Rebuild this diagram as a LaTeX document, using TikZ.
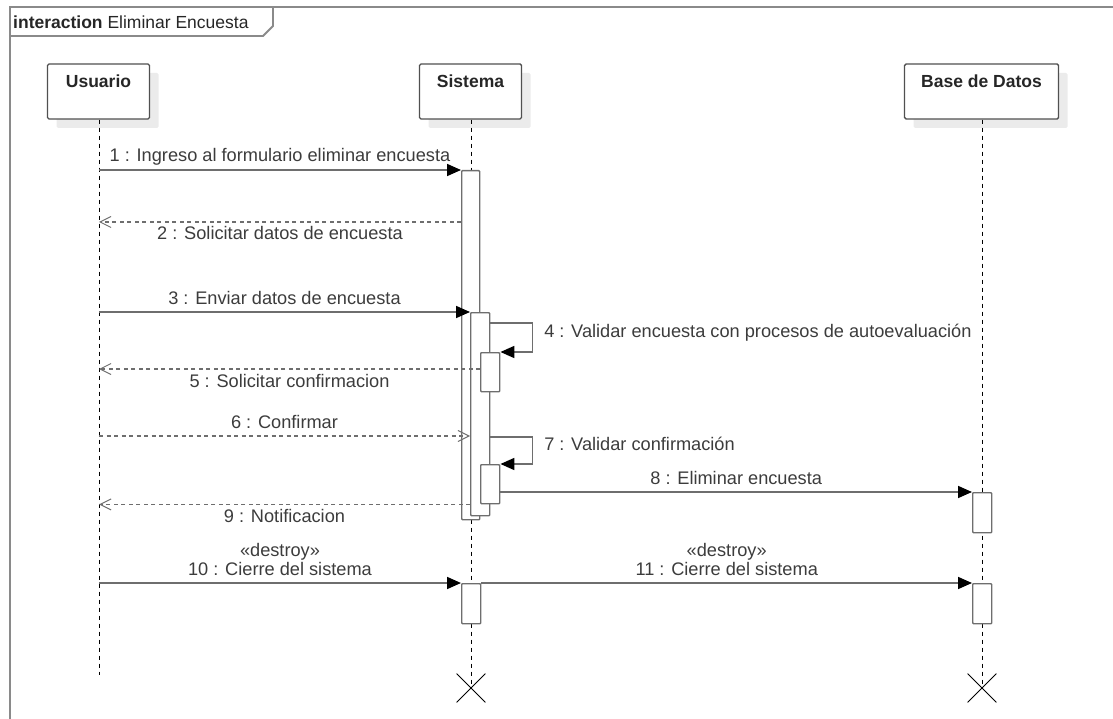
\documentclass[tikz,border=0pt]{standalone}
\usepackage{fontspec}
\setmainfont{Liberation Sans}
\usetikzlibrary{positioning, calc, shapes.misc, shadows, arrows.meta}

\definecolor{linegray}{HTML}{6E6E6E}
\definecolor{boxgray}{HTML}{505050}
\definecolor{framegray}{HTML}{8A8A8A}
\definecolor{txtgray}{HTML}{3C3C3C}

\tikzset{
  head/.style={draw=boxgray, line width=1.4pt, rounded corners=1.5pt, fill=white,
    minimum height=55pt, inner ysep=6pt, text height=18pt, text depth=25pt,
    font=\fontsize{17.5}{20}\selectfont\bfseries, text=black!85,
    drop shadow={shadow xshift=9pt, shadow yshift=-9pt, fill=black!8, opacity=1}},
  act/.style={draw=linegray, line width=1.4pt, fill=white, minimum width=19pt,
    inner sep=0pt, anchor=north west, rounded corners=0.8pt},
  life/.style={black, line width=0.9pt, dash pattern=on 4pt off 4pt},
  msg/.style={linegray, line width=1.7pt, -{Triangle[black, length=14pt, width=12pt]}},
  loopmsg/.style={linegray, line width=1.7pt, -{Triangle[black, length=14pt, width=12pt]}},
  ret/.style={linegray, line width=1.3pt, dash pattern=on 4pt off 3.5pt,
    -{Straight Barb[linegray, length=11pt, width=11pt, line width=1pt]}},
  lbl/.style={text=txtgray, font=\fontsize{18.2}{21}\selectfont, inner sep=0pt},
  over/.style={lbl, midway, anchor=base, yshift=8pt},
  under/.style={lbl, midway, anchor=base, yshift=-18pt},
  killmark/.style={cross out, draw=black, line width=0.8pt, minimum size=28pt, inner sep=0pt},
  frame/.style={framegray, line width=1.8pt}
}

\begin{document}
\begin{tikzpicture}[x=1pt, y=-1pt]
\useasboundingbox (0,0) rectangle (1113,719);

% frame
\draw[frame] (10,719) -- (10,7) -- (1113,7);
\draw[frame] (10,36) -- (263,36) -- (273,26) -- (273,7);
\node[anchor=base west, font=\fontsize{17.5}{20}\selectfont, text=black!85, inner sep=0pt] (title) at (13,29)
  {\textbf{interaction} Eliminar Encuesta};

% lifeline heads
\node[head, minimum width=102pt] (usr) at (98.5,91.5) {Usuario};
\node[head, minimum width=102pt] (sis) at (470.5,91.5) {Sistema};
\node[head, minimum width=154pt] (bd) at (981.5,91.5) {Base de Datos};

% ends of lifelines
\coordinate (usrend) at (99,675);
\node[killmark] (sisx) at (471,688) {};
\node[killmark] (bdx) at (982,688) {};

\draw[life] (usr.south -| usrend) -- (usrend);
\draw[life] (sis.south -| sisx) -- (sisx.center);
\draw[life] (bd.south -| bdx) -- (bdx.center);

% activations
\node[act, minimum width=18pt, minimum height=349pt] (a1) at (461,170) {};
\node[act, minimum height=203pt] (a2) at (470,312) {};
\node[act, minimum height=39pt] (a3) at (480,352) {};
\node[act, minimum height=39pt] (a4) at (480,464) {};
\node[act, minimum height=40pt] (a5) at (461,583) {};
\node[act, minimum height=40pt] (b1) at (972,492) {};
\node[act, minimum height=40pt] (b2) at (972,583) {};

% messages
\draw[msg] (usrend |- a1.north west) -- (a1.north west)
  node[over] (l1) {1 : Ingreso al formulario eliminar encuesta};

\coordinate (y2) at ($(a1.north west)+(0,52)$);
\draw[ret] (y2) -- (usrend |- y2)
  node[under] (l2) {2 : Solicitar datos de encuesta};

\draw[msg] (usrend |- a2.north west) -- (a2.north west)
  node[over] (l3) {3 : Enviar datos de encuesta};

\draw[loopmsg] ($(a2.north east)+(0,11)$) -- ++(42,0)
  node[lbl, anchor=base west, xshift=11pt, yshift=-14pt] (l4) {4 : Validar encuesta con procesos de autoevaluación}
  |- (a3.north east);

\coordinate (y5) at ($(a3.north west)+(0,17)$);
\draw[ret] (y5) -- (usrend |- y5)
  node[under] (l5) {5 : Solicitar confirmacion};

\coordinate (y6) at ($(a2.north west)+(0,124)$);
\draw[ret] (usrend |- y6) -- (y6)
  node[over] (l6) {6 : Confirmar};

\draw[loopmsg] ($(a2.north east)+(0,125)$) -- ++(42,0)
  node[lbl, anchor=base west, xshift=11pt, yshift=-13pt] (l7) {7 : Validar confirmación}
  |- (a4.north east);

\draw[msg] (a4.east |- b1.north west) -- (b1.north west)
  node[over] (l8) {8 : Eliminar encuesta};

\draw[ret] (a2.west |- a4.south) -- (usrend |- a4.south)
  node[under] (l9) {9 : Notificacion};

\draw[msg] (usrend |- a5.north west) -- (a5.north west)
  node[over] (l10) {10 : Cierre del sistema}
  node[over, yshift=19pt] (s10) {«destroy»};

\draw[msg] (a5.north east) -- (b2.north west)
  node[over] (l11) {11 : Cierre del sistema}
  node[over, yshift=19pt] (s11) {«destroy»};
\end{tikzpicture}
\end{document}
